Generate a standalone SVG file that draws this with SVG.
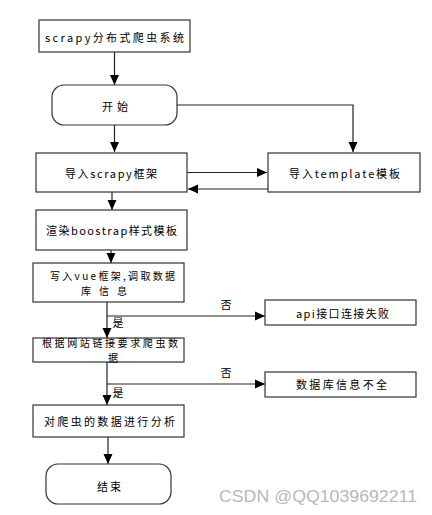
<svg xmlns="http://www.w3.org/2000/svg" width="432" height="515" viewBox="0 0 432 515">
<defs>
<style>
.box{fill:#fff;stroke:#333;stroke-width:1.2}
.t{font-family:"Noto Sans CJK SC","DejaVu Sans",sans-serif;font-size:11px;fill:#000;text-anchor:middle;dominant-baseline:central}
.s{font-size:10px}
.ln{fill:none;stroke:#222;stroke-width:1.2}
.wm{font-family:"Liberation Sans",Arial,sans-serif;font-size:17px;fill:#b8b8b8}
</style>
<marker id="ah" markerUnits="userSpaceOnUse" markerWidth="10" markerHeight="10" viewBox="0 0 10 10" refX="10" refY="5" orient="auto">
<path d="M0,0.5 L10,5 L0,9.5 Z" fill="#000"/>
</marker>
</defs>
<rect width="432" height="515" fill="#fff"/>
<g id="connectors">
<line class="ln" x1="114.5" y1="52" x2="114.5" y2="85" marker-end="url(#ah)"/>
<polyline class="ln" points="177,105 353,105 353,152" marker-end="url(#ah)"/>
<line class="ln" x1="114.5" y1="125" x2="114.5" y2="152" marker-end="url(#ah)"/>
<line class="ln" x1="187" y1="172.5" x2="267" y2="172.5" marker-end="url(#ah)"/>
<line class="ln" x1="268" y1="189" x2="188" y2="189" marker-end="url(#ah)"/>
<line class="ln" x1="112" y1="192" x2="112" y2="210" marker-end="url(#ah)"/>
<line class="ln" x1="111" y1="250" x2="111" y2="263" marker-end="url(#ah)"/>
<line class="ln" x1="107" y1="302" x2="107" y2="338" marker-end="url(#ah)"/>
<line class="ln" x1="107" y1="316" x2="265" y2="316" marker-end="url(#ah)"/>
<line class="ln" x1="107" y1="362" x2="107" y2="405" marker-end="url(#ah)"/>
<line class="ln" x1="107" y1="384" x2="265" y2="384" marker-end="url(#ah)"/>
<line class="ln" x1="108" y1="437" x2="108" y2="464" marker-end="url(#ah)"/>
<text class="t" x="226" y="304">否</text>
<text class="t" x="118" y="322">是</text>
<text class="t" x="226" y="372">否</text>
<text class="t" x="118" y="392">是</text>
</g>
<g id="n1"><rect class="box" x="39" y="20" width="151" height="32"/><text class="t" x="114.5" y="37" textLength="139" lengthAdjust="spacing">scrapy分布式爬虫系统</text></g>
<g id="start"><rect class="box" x="52" y="85" width="125" height="40" rx="12"/><text class="t" x="115" y="106" textLength="26" lengthAdjust="spacing">开始</text></g>
<g id="scrapy"><rect class="box" x="36" y="153" width="151" height="39"/><text class="t" x="111" y="173" textLength="92" lengthAdjust="spacing">导入scrapy框架</text></g>
<g id="template"><rect class="box" x="268" y="153" width="152" height="39"/><text class="t" x="344.5" y="173" textLength="111" lengthAdjust="spacing">导入template模板</text></g>
<g id="render"><rect class="box" x="36" y="210" width="151" height="40"/><text class="t" x="111.5" y="230" textLength="131" lengthAdjust="spacing">渲染boostrap样式模板</text></g>
<g id="vue"><rect class="box" x="33" y="263" width="151" height="39"/><text class="t s" x="112.5" y="275.5" textLength="125" lengthAdjust="spacing">写入vue框架,调取数据</text><text class="t s" x="104" y="290" textLength="46" lengthAdjust="spacing">库信息</text></g>
<g id="api"><rect class="box" x="265" y="300" width="151" height="25"/><text class="t" x="342.5" y="313" textLength="93" lengthAdjust="spacing">api接口连接失败</text></g>
<g id="crawl"><rect class="box" x="33" y="338" width="151" height="24"/><text class="t s" x="110" y="342.5" textLength="136" lengthAdjust="spacing">根据网站链接要求爬虫数</text><text class="t s" x="113" y="357.5">据</text></g>
<g id="db"><rect class="box" x="265" y="372" width="151" height="25"/><text class="t" x="341.5" y="384" textLength="91" lengthAdjust="spacing">数据库信息不全</text></g>
<g id="analysis"><rect class="box" x="33" y="405" width="151" height="32"/><text class="t" x="109.5" y="421" textLength="131" lengthAdjust="spacing">对爬虫的数据进行分析</text></g>
<g id="end"><rect class="box" x="46" y="464" width="125" height="40" rx="12"/><text class="t" x="109" y="486" textLength="24" lengthAdjust="spacing">结束</text></g>
<text class="wm" x="219" y="502" textLength="198" lengthAdjust="spacingAndGlyphs">CSDN @QQ1039692211</text>
</svg>
